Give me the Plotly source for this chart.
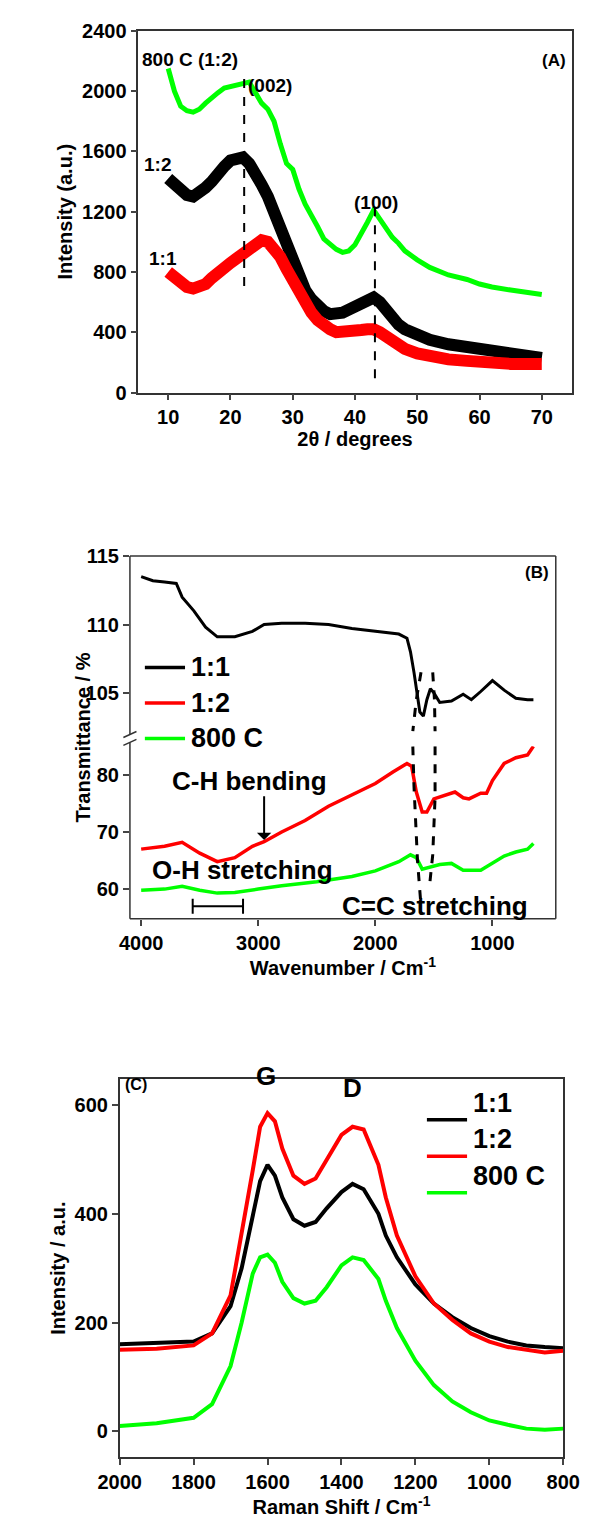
import plotly.graph_objects as go

W, H = 590, 1522

# ---- (A) XRD ----
xrd_2theta = [10, 11, 12, 13, 14, 15, 16, 17, 18, 19, 20, 21, 22, 23, 24, 25, 26, 27, 28, 29, 30,
              31, 32, 33, 34, 35, 36, 37, 38, 39, 40, 41, 42, 43, 44, 45, 46, 47, 48, 50, 52, 55,
              58, 60, 62, 65, 68, 70]
xrd_800c = [2150, 2000, 1900, 1870, 1860, 1880, 1920, 1960, 1990, 2020, 2030, 2040, 2050, 2060,
            1990, 1920, 1880, 1800, 1650, 1520, 1480, 1350, 1250, 1180, 1100, 1020, 980, 950, 930,
            940, 980, 1050, 1130, 1210, 1150, 1080, 1030, 990, 940, 880, 830, 780, 750, 720, 700,
            680, 660, 650]
xrd_12 = [1420, 1380, 1340, 1310, 1300, 1320, 1360, 1400, 1460, 1500, 1540, 1560, 1560, 1520,
          1460, 1380, 1300, 1200, 1080, 960, 850, 760, 680, 620, 570, 540, 520, 520, 530, 550, 570,
          590, 610, 630, 600, 540, 480, 450, 420, 380, 350, 320, 300, 280, 270, 260, 240, 230]
xrd_11 = [800, 760, 720, 700, 690, 700, 720, 760, 800, 830, 860, 890, 920, 960, 1000, 1010, 1000,
          960, 900, 820, 740, 650, 580, 530, 480, 440, 420, 400, 400, 405, 410, 415, 420, 420, 400,
          370, 330, 310, 290, 260, 240, 220, 210, 200, 195, 190, 190, 190]

# ---- (B) FTIR ----
ir_black_x = [4000, 3900, 3800, 3700, 3650, 3550, 3450, 3350, 3200, 3050, 2950, 2800, 2600, 2400,
              2200, 2000, 1800, 1730, 1700, 1670, 1640, 1620, 1590, 1560, 1530, 1500, 1450, 1350,
              1250, 1180, 1100, 1000, 900, 800, 700, 650]
ir_black = [113.5, 113.2, 113.1, 113.0, 112.0, 111.0, 109.8, 109.1, 109.1, 109.5, 110.0, 110.1,
            110.1, 110.0, 109.7, 109.5, 109.3, 109.0, 108.0, 106.5, 104.8, 103.6, 103.3, 104.5,
            105.3, 105.0, 104.3, 104.4, 104.9, 104.5, 105.1, 105.9, 105.2, 104.6, 104.5, 104.5]
ir_red_x = [4000, 3800, 3650, 3500, 3350, 3200, 3050, 2950, 2800, 2600, 2400, 2200, 2000, 1850,
            1730, 1690, 1650, 1600, 1560, 1500, 1400, 1320, 1250, 1200, 1100, 1050, 1000, 900,
            800, 700, 650]
ir_red = [67, 67.5, 68.2, 66.3, 64.8, 65.5, 67.5, 68.3, 70, 72, 74.5, 76.5, 78.5, 80.5, 82, 81.5,
          77, 73.5, 73.5, 75.8, 76.5, 77, 76, 75.8, 76.8, 76.8, 79, 82, 83, 83.5, 85]
ir_green_x = [4000, 3800, 3650, 3500, 3350, 3200, 3000, 2800, 2500, 2200, 2000, 1800, 1700, 1650,
              1600, 1550, 1450, 1350, 1250, 1100, 1000, 900, 800, 700, 650]
ir_green = [59.8, 60, 60.5, 59.8, 59.3, 59.4, 60, 60.6, 61.3, 62.2, 63.2, 64.8, 66, 65.5, 63.5,
            63.8, 64.3, 64.5, 63.3, 63.3, 64.5, 65.8, 66.5, 67, 68]

# ---- (C) Raman ----
raman_x = [2000, 1900, 1800, 1750, 1700, 1670, 1640, 1620, 1600, 1580, 1560, 1530, 1500, 1470,
           1440, 1400, 1370, 1340, 1300, 1280, 1250, 1200, 1150, 1100, 1050, 1000, 950, 900, 850, 800]
raman_11 = [160, 162, 165, 180, 230, 300, 400, 460, 490, 470, 430, 390, 378, 385, 410, 440, 455,
            445, 400, 360, 320, 270, 235, 210, 190, 175, 165, 158, 155, 153]
raman_12 = [150, 152, 158, 180, 250, 360, 480, 560, 585, 570, 520, 470, 455, 465, 500, 545, 560,
            555, 490, 430, 360, 285, 235, 205, 180, 165, 155, 150, 145, 148]
raman_800 = [10, 15, 25, 50, 120, 200, 290, 320, 325, 310, 275, 245, 235, 240, 265, 305, 320, 315,
             280, 240, 190, 130, 85, 55, 35, 20, 12, 5, 3, 5]

legend_labels = ["1:1", "1:2", "800 C"]

BLACK, RED, GREEN = "#000000", "#ff0000", "#00ff00"
FONT = "Liberation Sans"


def px(x):
    return x / W


def py(y):
    return 1 - y / H


fig = go.Figure()

# A
fig.add_trace(go.Scatter(x=xrd_2theta, y=xrd_800c, line=dict(color=GREEN, width=5), xaxis="x", yaxis="y"))
fig.add_trace(go.Scatter(x=xrd_2theta, y=xrd_12, line=dict(color=BLACK, width=12), xaxis="x", yaxis="y"))
fig.add_trace(go.Scatter(x=xrd_2theta, y=xrd_11, line=dict(color=RED, width=12), xaxis="x", yaxis="y"))
fig.add_trace(go.Scatter(x=[22.2, 22.2], y=[2080, 700], mode="lines",
                         line=dict(color=BLACK, width=2, dash="dash"), xaxis="x", yaxis="y"))
fig.add_trace(go.Scatter(x=[43.2, 43.2], y=[1230, 80], mode="lines",
                         line=dict(color=BLACK, width=2, dash="dash"), xaxis="x", yaxis="y"))

# B top (black) and bottom (red, green)
fig.add_trace(go.Scatter(x=ir_black_x, y=ir_black, line=dict(color=BLACK, width=3), xaxis="x2", yaxis="y3"))
fig.add_trace(go.Scatter(x=ir_red_x, y=ir_red, line=dict(color=RED, width=3.5), xaxis="x2", yaxis="y2"))
fig.add_trace(go.Scatter(x=ir_green_x, y=ir_green, line=dict(color=GREEN, width=3.5), xaxis="x2", yaxis="y2"))
dash_b = dict(color=BLACK, width=3, dash="dash")
fig.add_trace(go.Scatter(x=[1610, 1650, 1680], y=[106.5, 104.5, 102.2], mode="lines", line=dash_b, xaxis="x2", yaxis="y3"))
fig.add_trace(go.Scatter(x=[1510, 1495, 1490], y=[106.5, 104.5, 102.2], mode="lines", line=dash_b, xaxis="x2", yaxis="y3"))
fig.add_trace(go.Scatter(x=[1680, 1670, 1640, 1610], y=[85, 78, 65, 57], mode="lines", line=dash_b, xaxis="x2", yaxis="y2"))
fig.add_trace(go.Scatter(x=[1490, 1490, 1510, 1540], y=[85, 76, 66, 60], mode="lines", line=dash_b, xaxis="x2", yaxis="y2"))
# O-H bracket
fig.add_trace(go.Scatter(x=[3560, 3560, 3560, 3130, 3130, 3130], y=[58.3, 55.7, 57.0, 57.0, 58.3, 55.7],
                         mode="lines", line=dict(color=BLACK, width=2), xaxis="x2", yaxis="y2"))

# C
fig.add_trace(go.Scatter(x=raman_x, y=raman_11, line=dict(color=BLACK, width=4), xaxis="x4", yaxis="y4"))
fig.add_trace(go.Scatter(x=raman_x, y=raman_12, line=dict(color=RED, width=4), xaxis="x4", yaxis="y4"))
fig.add_trace(go.Scatter(x=raman_x, y=raman_800, line=dict(color=GREEN, width=4), xaxis="x4", yaxis="y4"))

tickfont = dict(family=FONT, size=20, color="black", weight="bold")
ax = dict(showgrid=False, zeroline=False, ticks="outside", ticklen=6, tickwidth=1.5,
          linecolor="#333", linewidth=1.5, tickfont=tickfont, showline=True, mirror=True,
          title_font=dict(family=FONT, size=20, color="black", weight="bold"), title_standoff=4)

fig.update_layout(
    width=W, height=H, margin=dict(l=0, r=0, t=0, b=0), showlegend=False,
    plot_bgcolor="white", paper_bgcolor="white",
    xaxis=dict(ax, domain=[px(116), px(580)], range=[5.2, 74.8], anchor="y",
               tickvals=[10, 20, 30, 40, 50, 60, 70], title_text="2θ / degrees"),
    yaxis=dict(ax, domain=[py(379), py(12)], range=[0, 2400], anchor="x",
               tickvals=[0, 400, 800, 1200, 1600, 2000, 2400], title_text="Intensity (a.u.)"),
    xaxis2=dict(ax, domain=[px(107), px(563)], range=[4096, 459], anchor="y2", showline=False,
                tickvals=[4000, 3000, 2000, 1000], title_text="Wavenumber / Cm<sup>-1</sup>"),
    yaxis2=dict(ax, domain=[py(913), py(738)], range=[54.8, 85], anchor="x2", showline=False,
                tickvals=[60, 70, 80]),
    yaxis3=dict(ax, domain=[py(724), py(545)], range=[102.1, 115], anchor="x2", showline=False,
                tickvals=[105, 110, 115]),
    xaxis4=dict(ax, domain=[px(96), px(571)], range=[2000, 800], anchor="y4",
                tickvals=[2000, 1800, 1600, 1400, 1200, 1000, 800],
                title_text="Raman Shift / Cm<sup>-1</sup>"),
    yaxis4=dict(ax, domain=[py(1459), py(1076)], range=[-47, 647], anchor="x4",
                tickvals=[0, 200, 400, 600], title_text="Intensity / a.u."),
)
fig.update_xaxes(tickformat="d")
fig.update_yaxes(tickformat="d")

# frame of panel B with broken left axis
line = dict(color="#333", width=1.5)
L, R, T, B = 107, 563, 545, 913
shapes = [
    dict(type="line", xref="paper", yref="paper", x0=px(L), x1=px(R), y0=py(T), y1=py(T), line=line),
    dict(type="line", xref="paper", yref="paper", x0=px(L), x1=px(R), y0=py(B), y1=py(B), line=line),
    dict(type="line", xref="paper", yref="paper", x0=px(R), x1=px(R), y0=py(T), y1=py(B), line=line),
    dict(type="line", xref="paper", yref="paper", x0=px(L), x1=px(L), y0=py(T), y1=py(726), line=line),
    dict(type="line", xref="paper", yref="paper", x0=px(L), x1=px(L), y0=py(734), y1=py(B), line=line),
    dict(type="line", xref="paper", yref="paper", x0=px(100), x1=px(114), y0=py(729), y1=py(723), line=line),
    dict(type="line", xref="paper", yref="paper", x0=px(100), x1=px(114), y0=py(737), y1=py(731), line=line),
]
annots = []


def lab(x, y, text, size=20, anchor="left"):
    annots.append(dict(x=px(x), y=py(y), xref="paper", yref="paper", showarrow=False,
                       text="<b>" + text + "</b>", xanchor=anchor,
                       font=dict(family=FONT, size=size, color="black")))


def legend_rows(x0, ytop, step, size):
    for i, (name, col) in enumerate(zip(legend_labels, [BLACK, RED, GREEN])):
        y = ytop + i * step
        shapes.append(dict(type="line", xref="paper", yref="paper", x0=px(x0), x1=px(x0 + 43),
                           y0=py(y), y1=py(y), line=dict(color=col, width=3.5)))
        lab(x0 + 47, y, name, size)


legend_rows(123, 658, 36, 27)
legend_rows(425, 1117, 37, 27)

lab(118, 28, "800 C (1:2)", 19)
lab(576, 30, "(A)", 17, "right")
lab(231, 55, "(002)", 19)
lab(370, 174, "(100)", 19, "center")
lab(120, 135, "1:2", 19)
lab(125, 230, "1:1", 19)
lab(558, 562, "(B)", 17, "right")
lab(150, 773, "C-H bending", 26)
lab(128, 863, "O-H stretching", 26)
lab(332, 900, "C=C stretching", 26)
lab(100, 1092, "(C)", 16)
lab(253, 1090, "G", 26, "center")
lab(345, 1102, "D", 26, "center")
annots.append(dict(x=px(43), y=py(729), xref="paper", yref="paper", showarrow=False,
                   text="<b>Transmittance / %</b>", textangle=-90,
                   font=dict(family=FONT, size=20, color="black")))
annots.append(dict(x=2950, y=68.6, xref="x2", yref="y2", ax=2950, ay=76.5, axref="x2", ayref="y2",
                   showarrow=True, arrowhead=1, arrowsize=1.2, arrowwidth=2, arrowcolor="black", text=""))

fig.update_layout(shapes=shapes, annotations=annots)
fig.write_html("out.html")
